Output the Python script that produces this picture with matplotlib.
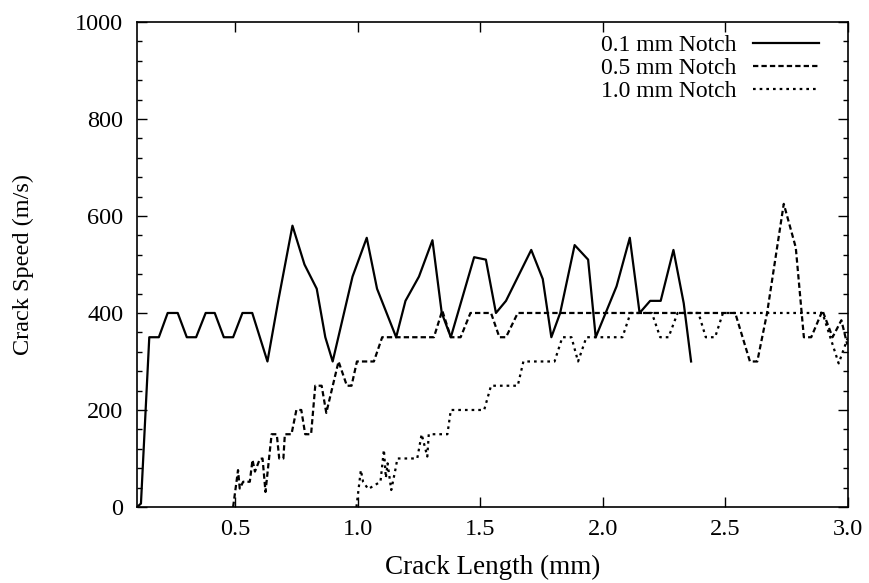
import matplotlib
matplotlib.use("Agg")
import matplotlib.pyplot as plt
from matplotlib.ticker import MultipleLocator

plt.rcParams['font.family'] = ['Liberation Serif', 'DejaVu Serif']

# 0.1 mm notch (solid)
notch01_x = [0.100, 0.116, 0.150, 0.189, 0.225, 0.266, 0.303, 0.341, 0.380, 0.417,
             0.454, 0.492, 0.530, 0.570, 0.632, 0.676, 0.734, 0.783, 0.833, 0.868,
             0.898, 0.979, 1.037, 1.079, 1.157, 1.195, 1.250, 1.305, 1.343, 1.380,
             1.475, 1.523, 1.564, 1.605, 1.708, 1.755, 1.790, 1.826, 1.885, 1.940,
             1.971, 2.056, 2.110, 2.150, 2.193, 2.236, 2.288, 2.330, 2.360]
notch01_y = [0, 7, 350, 350, 400, 400, 350, 350, 400, 400,
             350, 350, 400, 400, 300, 425, 580, 500, 450, 350,
             300, 475, 555, 450, 350, 425, 475, 550, 400, 350,
             515, 510, 400, 425, 530, 470, 350, 400, 540, 510,
             350, 455, 555, 400, 425, 425, 530, 420, 300]

# 0.5 mm notch (dashed)
notch05_x = [0.492, 0.512, 0.519, 0.533, 0.560, 0.571, 0.581, 0.601, 0.612, 0.624,
             0.649, 0.670, 0.680, 0.697, 0.703, 0.730, 0.750, 0.770, 0.786, 0.810,
             0.827, 0.853, 0.872, 0.922, 0.956, 0.975, 0.997, 1.066, 1.100, 1.311,
             1.345, 1.380, 1.420, 1.460, 1.544, 1.578, 1.605, 1.653, 2.540, 2.600,
             2.630, 2.670, 2.738, 2.787, 2.820, 2.850, 2.896, 2.937, 2.973, 2.997]
notch05_y = [0, 76, 38, 52, 52, 97, 73, 99, 100, 31,
             150, 150, 100, 100, 150, 150, 200, 200, 150, 150,
             250, 250, 194, 300, 250, 250, 300, 300, 350, 350,
             405, 350, 350, 400, 400, 350, 350, 400, 400, 300,
             300, 400, 625, 535, 350, 350, 405, 350, 385, 335]

# 1.0 mm notch (dotted)
notch10_x = [0.995, 1.013, 1.022, 1.043, 1.093, 1.107, 1.115, 1.122, 1.137, 1.155,
             1.162, 1.243, 1.261, 1.284, 1.290, 1.366, 1.380, 1.516, 1.544, 1.653,
             1.676, 1.803, 1.835, 1.872, 1.899, 1.933, 2.080, 2.113, 2.200, 2.234,
             2.268, 2.305, 2.390, 2.420, 2.458, 2.490, 2.896, 2.962, 3.000]
notch10_y = [0, 76, 52, 37, 52, 118, 60, 90, 35, 80,
             100, 100, 150, 104, 150, 150, 200, 200, 250, 250,
             300, 300, 350, 350, 300, 350, 350, 400, 400, 350,
             350, 400, 400, 350, 350, 400, 400, 296, 350]

xtick_vals = [0.5, 1.0, 1.5, 2.0, 2.5, 3.0]
xtick_text = ['0.5', '1.0', '1.5', '2.0', '2.5', '3.0']

fig, ax = plt.subplots(figsize=(8.7, 5.83), dpi=100)
fig.subplots_adjust(left=0.1575, right=0.9747, top=0.9623, bottom=0.1304)

ax.plot(notch01_x, notch01_y, color='black', lw=1.6, label='0.1 mm Notch')
ax.plot(notch05_x, notch05_y, color='black', lw=1.6, dashes=(2.4, 1.4), label='0.5 mm Notch')
ax.plot(notch10_x, notch10_y, color='black', lw=1.6, dashes=(1.2, 1.8), label='1.0 mm Notch')

ax.set_xlim(0.1, 3.0)
ax.set_ylim(0, 1000)
ax.yaxis.set_major_locator(MultipleLocator(200))
ax.yaxis.set_minor_locator(MultipleLocator(40))
ax.set_xticks(xtick_vals)
ax.set_xticklabels(xtick_text)
ax.tick_params(which='both', direction='in', top=True, right=True, labelsize=17.5, width=1)
ax.tick_params(which='major', length=7)
ax.tick_params(which='minor', length=3.6)
ax.tick_params(axis='y', pad=10)
ax.tick_params(axis='x', pad=9)
for s in ax.spines.values():
    s.set_linewidth(1.2)

ax.set_xlabel('Crack Length (mm)', fontsize=19.5, va='center')
ax.set_ylabel('Crack Speed (m/s)', fontsize=17.5, va='center')
ax.xaxis.set_label_coords(0.5, -0.124)
ax.yaxis.set_label_coords(-0.160, 0.5)

ax.legend(loc='upper right', bbox_to_anchor=(0.959, 0.974), frameon=False,
          markerfirst=False, fontsize=17, handlelength=2.8, handletextpad=0.68,
          labelspacing=0.07, borderaxespad=0, borderpad=0)

plt.savefig('out.png', dpi=100)
